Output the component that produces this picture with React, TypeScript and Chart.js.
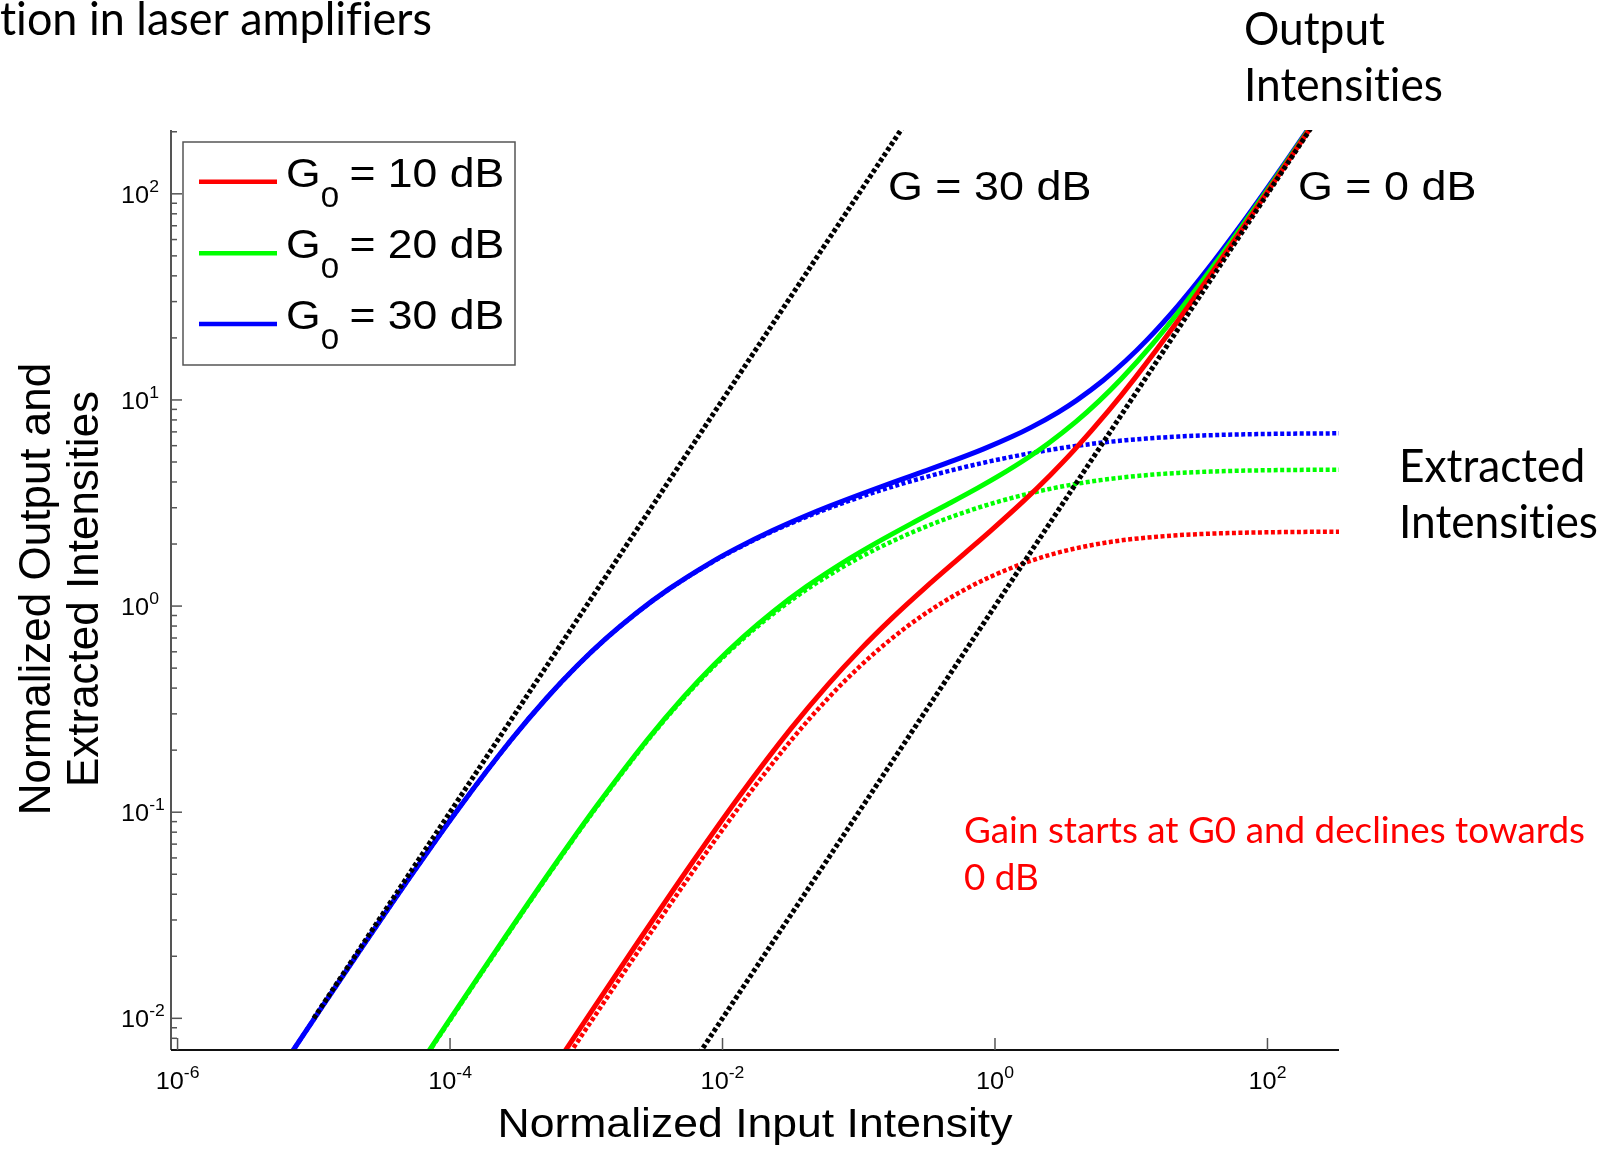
import React, { useEffect, useRef } from 'react';
import { Chart, registerables } from 'chart.js';

Chart.register(...registerables);

const W = 1605;
const H = 1152;

// ---------- data ----------
// G0 = 10 dB
const redInput = [0.00056006, 0.00112925, 0.00229576, 0.00603451, 0.01317006, 0.03187765, 0.05944582, 0.10216512, 0.1732868, 0.30543024, 0.6019864, 0.9241963, 1.6094379, 2.531367, 3.79424, 6.800736, 10.601318, 22.072749, 45.0759, 114.1391, 229.26348, 337.619];
const redOutput = [0.0055726, 0.0111796, 0.0224985, 0.0573278, 0.1185306, 0.2550212, 0.4161208, 0.6129907, 0.866434, 1.221721, 1.805959, 2.310491, 3.218876, 4.303324, 5.69136, 8.840957, 12.72158, 24.28003, 47.3297, 116.4219, 231.5561, 339.915];
const redExtracted = [0.0050125, 0.0100503, 0.0202027, 0.0512933, 0.1053605, 0.2231436, 0.3566749, 0.5108256, 0.6931472, 0.9162907, 1.2039728, 1.3862944, 1.6094379, 1.7719568, 1.89712, 2.0402208, 2.1202635, 2.2072749, 2.2537949, 2.2827824, 2.2926348, 2.295808];

// G0 = 20 dB
const greenInput = [5.08887e-5, 1.025545e-4, 2.082754e-4, 5.456733e-4, 1.183826e-3, 2.824602e-3, 5.169202e-3, 8.658061e-3, 0.01414586, 0.02349463, 0.0415163, 0.08470726, 0.1355086, 0.2558428, 0.44321, 0.7489331, 1.0729586, 1.753279, 2.459253, 3.912023, 5.820774, 8.39941, 14.47602, 22.11424, 45.0986, 91.1276, 229.2684, 340.13];
const greenOutput = [0.00506343, 0.0101529, 0.02041099, 0.05183896, 0.1065443, 0.2259682, 0.3618441, 0.5194837, 0.707293, 0.939785, 1.245489, 1.694145, 2.032629, 2.558428, 3.10247, 3.744665, 4.291834, 5.259837, 6.148133, 7.824046, 9.895316, 12.59912, 18.81882, 26.53709, 49.60846, 95.684, 233.8537, 344.72];
const greenExtracted = [0.0050125, 0.0100503, 0.0202027, 0.0512933, 0.1053605, 0.2231436, 0.3566749, 0.5108256, 0.6931472, 0.9162907, 1.2039728, 1.6094379, 1.89712, 2.3025851, 2.65926, 2.9957323, 3.2188758, 3.5065579, 3.6888795, 3.912023, 4.0745419, 4.1997051, 4.3428059, 4.4228486, 4.50986, 4.5563798, 4.5853673, 4.59176];

// G0 = 30 dB
const blueInput = [5.0428e-6, 1.016213e-5, 2.063607e-5, 5.404983e-5, 1.171975e-4, 2.792817e-4, 5.102646e-4, 8.527974e-4, 1.389072e-3, 2.296468e-3, 4.026665e-3, 8.087628e-3, 0.01273235, 0.02325843, 0.03853999, 0.06113739, 0.1209158, 0.2058959, 0.2999789, 0.5116856, 0.8269742, 1.3245793, 1.840487, 2.9045715, 3.9943097, 6.2146081, 9.110181, 13.00458, 22.1513, 33.62717, 68.12445, 137.1793, 229.2732, 339.29];
const blueOutput = [0.005017586, 0.01006051, 0.02022335, 0.05134734, 0.1054778, 0.2234254, 0.3571852, 0.5116784, 0.694536, 0.918587, 1.208, 1.617526, 1.909852, 2.325843, 2.697799, 3.056869, 3.627474, 4.117919, 4.499684, 5.116856, 5.788819, 6.622897, 7.361948, 8.713715, 9.985774, 12.42922, 15.48731, 19.50687, 28.79669, 40.3526, 74.9369, 144.0383, 236.1514, 346.18];
const blueExtracted = [0.0050125, 0.0100503, 0.0202027, 0.0512933, 0.1053605, 0.2231436, 0.3566749, 0.5108256, 0.6931472, 0.9162907, 1.2039728, 1.6094379, 1.89712, 2.3025851, 2.65926, 2.9957323, 3.5065579, 3.912023, 4.1997051, 4.6051702, 4.9618451, 5.2983174, 5.5214609, 5.809143, 5.9914645, 6.2146081, 6.377127, 6.5022902, 6.645391, 6.7254337, 6.8124451, 6.8589651, 6.878196, 6.887658];

// reference gain lines
const gain30Input = [1e-5, 0.3];
const gain30Output = [1e-2, 300];
const gain0Input = [0.005, 400];
const gain0Output = [0.005, 400];

// axes / ticks
const X_MIN = 8.95e-7;
const X_MAX = 335;
const Y_MIN = 7.02e-3;
const Y_MAX = 204;
const xTickValues = [1e-6, 1e-4, 1e-2, 1, 100];
const xTickExponents = ['-6', '-4', '-2', '0', '2'];
const yTickValues = [1e-2, 1e-1, 1, 10, 100];
const yTickExponents = ['-2', '-1', '0', '1', '2'];
const legendGains = ['10', '20', '30'];

const RED = '#ff0000';
const GREEN = '#00ff00';
const BLUE = '#0000ff';

const pts = (xs: number[], ys: number[]) => xs.map((x, i) => ({ x, y: ys[i] }));

const ARIAL = '"Liberation Sans", Arial, Helvetica, sans-serif';
const CALIBRI = 'Lato, "Open Sans", sans-serif';
const SX = 1.1;

function drawText(
  ctx: CanvasRenderingContext2D,
  s: string,
  x: number,
  y: number,
  font: string,
  color: string,
  align: 'left' | 'center' | 'right' = 'left',
  sx = 1
) {
  ctx.save();
  ctx.font = font;
  try { (ctx as any).textRendering = 'optimizeSpeed'; } catch (e) { /* ignore */ }
  ctx.fillStyle = color;
  ctx.textBaseline = 'alphabetic';
  ctx.textAlign = 'left';
  const w = ctx.measureText(s).width * sx;
  const x0 = align === 'left' ? x : align === 'center' ? x - w / 2 : x - w;
  ctx.translate(x0, y);
  ctx.scale(sx, 1);
  ctx.fillText(s, 0, 0);
  ctx.restore();
  return w;
}

function measure(ctx: CanvasRenderingContext2D, s: string, font: string) {
  ctx.save();
  ctx.font = font;
  try { (ctx as any).textRendering = 'optimizeSpeed'; } catch (e) { /* ignore */ }
  const w = ctx.measureText(s).width;
  ctx.restore();
  return w;
}

const MAIN_F = `23px ${ARIAL}`;
const SUP_F = `16px ${ARIAL}`;

function powWidth(ctx: CanvasRenderingContext2D, exp: string) {
  return (measure(ctx, '10', MAIN_F) + measure(ctx, exp, SUP_F)) * SX;
}

function drawPow(ctx: CanvasRenderingContext2D, exp: string, x: number, baseline: number, supBaseline: number) {
  const w = drawText(ctx, '10', x, baseline, MAIN_F, '#000', 'left', SX);
  drawText(ctx, exp, x + w, supBaseline, SUP_F, '#000', 'left', SX);
}

const decorPlugin = {
  id: 'decor',
  afterDatasetsDraw(chart: any) {
    const ctx: CanvasRenderingContext2D = chart.ctx;
    const xs = chart.scales.x;
    const ys = chart.scales.y;
    const { left, right, top, bottom } = chart.chartArea;
    ctx.save();

    // axis lines
    ctx.lineWidth = 2;
    ctx.strokeStyle = '#555';
    ctx.beginPath();
    ctx.moveTo(left, top);
    ctx.lineTo(left, bottom);
    ctx.stroke();
    ctx.strokeStyle = '#111';
    ctx.beginPath();
    ctx.moveTo(left, bottom);
    ctx.lineTo(right, bottom);
    ctx.stroke();

    // x ticks (inward)
    ctx.strokeStyle = '#555';
    ctx.lineWidth = 1.5;
    xTickValues.forEach((v) => {
      const px = xs.getPixelForValue(v);
      ctx.beginPath();
      ctx.moveTo(px, bottom);
      ctx.lineTo(px, bottom - 12);
      ctx.stroke();
    });
    // y ticks major + minor
    for (let k = -3; k <= 2; k++) {
      for (let m = 1; m <= 9; m++) {
        const v = m * Math.pow(10, k);
        if (v < Y_MIN || v > Y_MAX) continue;
        const py = ys.getPixelForValue(v);
        ctx.beginPath();
        ctx.moveTo(left, py);
        ctx.lineTo(left + (m === 1 ? 11 : 6), py);
        ctx.stroke();
      }
    }

    // tick labels
    xTickValues.forEach((v, i) => {
      const px = xs.getPixelForValue(v);
      const w = powWidth(ctx, xTickExponents[i]);
      drawPow(ctx, xTickExponents[i], px - w / 2, 1089, 1078);
    });
    yTickValues.forEach((v, i) => {
      const py = ys.getPixelForValue(v);
      drawPow(ctx, yTickExponents[i], 121, py + 9, py - 2);
    });

    // axis titles
    drawText(ctx, 'Normalized Input Intensity', 755, 1137, `40.5px ${ARIAL}`, '#000', 'center', SX);
    const yTitleLines = ['Normalized Output and', 'Extracted Intensities'];
    const yTitleBase = [50, 98];
    yTitleLines.forEach((s, i) => {
      ctx.save();
      ctx.translate(yTitleBase[i], 589);
      ctx.rotate(-Math.PI / 2);
      drawText(ctx, s, 0, 0, `44px ${ARIAL}`, '#000', 'center', 1);
      ctx.restore();
    });

    // legend
    const lb = { x: 183, y: 142, w: 332, h: 223 };
    ctx.fillStyle = '#fff';
    ctx.fillRect(lb.x, lb.y, lb.w, lb.h);
    ctx.strokeStyle = '#555';
    ctx.lineWidth = 1.5;
    ctx.strokeRect(lb.x, lb.y, lb.w, lb.h);
    const rowY = [181.7, 253.3, 324];
    const legendColors = [chart.data.datasets[2].borderColor, chart.data.datasets[3].borderColor, chart.data.datasets[4].borderColor];
    legendGains.forEach((g, i) => {
      const y = rowY[i];
      ctx.strokeStyle = legendColors[i];
      ctx.lineWidth = 4.5;
      ctx.setLineDash([]);
      ctx.beginPath();
      ctx.moveTo(199, y);
      ctx.lineTo(277, y);
      ctx.stroke();
      let x = 286;
      x += drawText(ctx, 'G', x, y + 5, `40.5px ${ARIAL}`, '#000', 'left', SX);
      x += drawText(ctx, '0', x, y + 25, `30px ${ARIAL}`, '#000', 'left', SX);
      drawText(ctx, ` = ${g} dB`, x - 2, y + 5, `40.5px ${ARIAL}`, '#000', 'left', SX);
    });

    // annotations (figure font)
    drawText(ctx, 'G = 30 dB', 888, 200, `40.8px ${ARIAL}`, '#000', 'left', SX);
    drawText(ctx, 'G = 0 dB', 1298, 200, `40.8px ${ARIAL}`, '#000', 'left', SX);

    // slide annotations (Calibri-like)
    const tF = `46px ${CALIBRI}`;
    const tS = 432 / measure(ctx, 'tion in laser amplifiers', tF);
    drawText(ctx, 'tion in laser amplifiers', 0, 35, tF, '#000', 'left', tS);

    const bF = `46px ${CALIBRI}`;
    const bS = 199 / measure(ctx, 'Intensities', bF);
    drawText(ctx, 'Output', 1244, 45, bF, '#000', 'left', bS);
    drawText(ctx, 'Intensities', 1244, 101, bF, '#000', 'left', bS);
    drawText(ctx, 'Extracted', 1399, 482, bF, '#000', 'left', bS);
    drawText(ctx, 'Intensities', 1399, 538, bF, '#000', 'left', bS);

    const rF = `36px ${CALIBRI}`;
    const rLine = 'Gain starts at G0 and declines towards';
    const rS = 621 / measure(ctx, rLine, rF);
    drawText(ctx, rLine, 964, 843, rF, RED, 'left', rS);
    drawText(ctx, '0 dB', 964, 890, rF, RED, 'left', rS);

    ctx.restore();
  },
};

const DOT = [4, 2.5];
const BLACK_DOT = [4, 2.5];

function makeConfig(): any {
  const solid = (data: any, color: string, order: number) => ({
    data,
    borderColor: color,
    borderWidth: 5,
    pointRadius: 0,
    cubicInterpolationMode: 'monotone',
    fill: false,
    order,
  });
  const dotted = (data: any, color: string, order: number, dash: number[], width: number) => ({
    data,
    borderColor: color,
    borderWidth: width,
    borderDash: dash,
    borderCapStyle: 'butt',
    pointRadius: 0,
    cubicInterpolationMode: 'monotone',
    fill: false,
    order,
  });
  return {
    type: 'line',
    data: {
      datasets: [
        dotted(pts(gain30Input, gain30Output), '#000', 0, BLACK_DOT, 5),
        dotted(pts(gain0Input, gain0Output), '#000', 0, BLACK_DOT, 5),
        solid(pts(redInput, redOutput), RED, 1),
        solid(pts(greenInput, greenOutput), GREEN, 1),
        solid(pts(blueInput, blueOutput), BLUE, 1),
        dotted(pts(redInput, redExtracted), RED, 2, DOT, 4.5),
        dotted(pts(greenInput, greenExtracted), GREEN, 2, DOT, 4.5),
        dotted(pts(blueInput, blueExtracted), BLUE, 2, DOT, 4.5),
      ],
    },
    options: {
      animation: false,
      responsive: false,
      devicePixelRatio: 1,
      events: [],
      layout: { padding: { left: 171, right: W - 1339, top: 130, bottom: H - 1050 } },
      plugins: {
        legend: { display: false },
        title: { display: false },
        tooltip: { enabled: false },
      },
      scales: {
        x: { type: 'logarithmic', display: false, min: X_MIN, max: X_MAX, bounds: 'data' },
        y: { type: 'logarithmic', display: false, min: Y_MIN, max: Y_MAX, bounds: 'data' },
      },
    },
    plugins: [decorPlugin],
  };
}

export default function App() {
  const ref = useRef<HTMLCanvasElement>(null);
  useEffect(() => {
    if (!ref.current) return;
    const chart = new Chart(ref.current, makeConfig());
    return () => chart.destroy();
  }, []);
  return (
    <div style={{ position: 'absolute', left: 0, top: 0, width: W, height: H, background: '#fff', overflow: 'hidden' }}>
      <canvas ref={ref} width={W} height={H} style={{ display: 'block', width: W, height: H }} />
    </div>
  );
}
